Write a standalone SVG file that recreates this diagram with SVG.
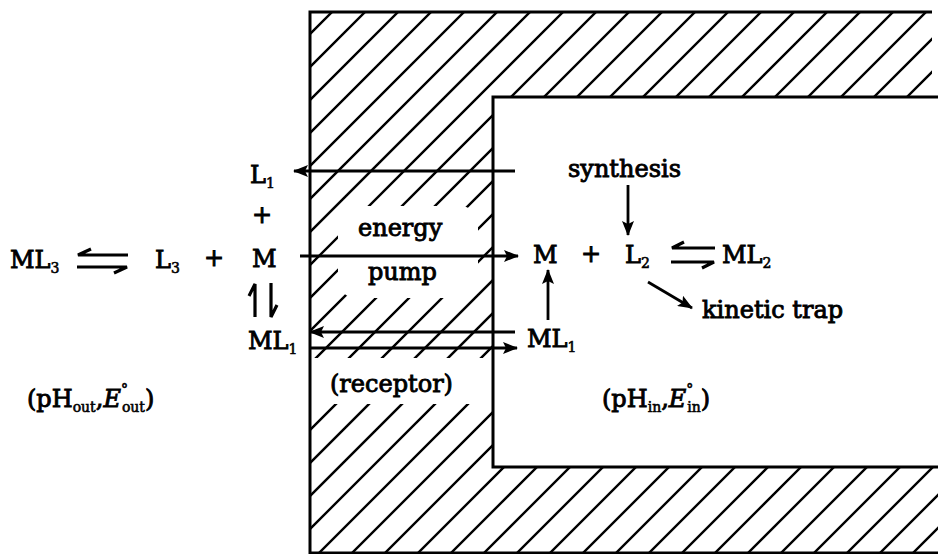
<svg xmlns="http://www.w3.org/2000/svg" width="938" height="554" viewBox="0 0 938 554">
<style>
  text { font-family: "DejaVu Serif", "Liberation Serif", serif; font-size: 24px; fill: #000; stroke: #000; stroke-width: 0.9; }
  .sub { font-size: 14px; stroke-width: 0.6; }
  .it { font-style: italic; }
  .ln { fill: none; stroke: #000; stroke-width: 2.8; }
  .hp { fill: none; stroke: #000; stroke-width: 3.2; stroke-linejoin: miter; }
  .border { fill: none; stroke: #000; stroke-width: 3; }
  .hatch { fill: none; stroke: #000; stroke-width: 2.4; }
</style>
<defs>
  <clipPath id="wall">
    <path d="M310,12 H932 V97 H493 V467 H938 V553 H310 Z"/>
  </clipPath>
  <marker id="ah" markerUnits="userSpaceOnUse" markerWidth="16" markerHeight="12" refX="14" refY="6" orient="auto">
    <path d="M0,0 L15,6 L0,12 L3,6 Z" fill="#000"/>
  </marker>
</defs>

<g id="membrane">
  <path class="hatch" clip-path="url(#wall)" d="M-249,560L311,0 M-216,560L344,0 M-183,560L377,0 M-150,560L410,0 M-117,560L443,0 M-84,560L476,0 M-51,560L509,0 M-18,560L542,0 M15,560L575,0 M48,560L608,0 M81,560L641,0 M114,560L674,0 M147,560L707,0 M180,560L740,0 M213,560L773,0 M246,560L806,0 M279,560L839,0 M312,560L872,0 M345,560L905,0 M378,560L938,0 M411,560L971,0 M444,560L1004,0 M477,560L1037,0 M510,560L1070,0 M543,560L1103,0 M576,560L1136,0 M609,560L1169,0 M642,560L1202,0 M675,560L1235,0 M708,560L1268,0 M741,560L1301,0 M774,560L1334,0 M807,560L1367,0 M840,560L1400,0 M873,560L1433,0 M906,560L1466,0 M939,560L1499,0"/>
  <rect x="338" y="206" width="140" height="92" rx="18" fill="#fff"/>
  <rect x="311" y="358" width="181" height="46" fill="#fff"/>
  <path class="border" d="M932,12 H310 V553 H938"/>
  <path class="border" d="M938,97 H493 V467 H938"/>
</g>

<g id="connectors">
  <path class="ln" d="M515,171 H294" marker-end="url(#ah)"/>
  <path class="ln" d="M300,256 H518" marker-end="url(#ah)"/>
  <path class="ln" d="M628,185 V235" marker-end="url(#ah)"/>
  <path class="ln" d="M548,320 V270" marker-end="url(#ah)"/>
  <path class="ln" d="M648,282 L692,308" marker-end="url(#ah)"/>
  <path class="ln" d="M515,332 H310" marker-end="url(#ah)"/>
  <path class="ln" d="M310,348 H517" marker-end="url(#ah)"/>
  <path class="hp" d="M128,255 H78 L91,249"/>
  <path class="hp" d="M77,267 H127 L114,273"/>
  <path class="hp" d="M715,248 H672 L684,242"/>
  <path class="hp" d="M671,262 H714 L702,268"/>
  <path class="hp" d="M255,317 V284 L249,296"/>
  <path class="hp" d="M271,283 V317 L277,305"/>
</g>

<g id="outside">
  <text x="10" y="268">ML<tspan class="sub" dy="5">3</tspan></text>
  <text x="155" y="268">L<tspan class="sub" dy="5">3</tspan></text>
  <text x="214" y="266" text-anchor="middle">+</text>
  <text x="252" y="267">M</text>
  <text x="250" y="183">L<tspan class="sub" dy="5">1</tspan></text>
  <text x="262" y="223" text-anchor="middle">+</text>
  <text x="248" y="349">ML<tspan class="sub" dy="5">1</tspan></text>
  <text x="27" y="407">(pH<tspan class="sub" dy="5">out</tspan><tspan dy="-5">,</tspan><tspan class="it">E</tspan><tspan class="sub" dy="-13">°</tspan><tspan class="sub" dx="-6" dy="18">out</tspan><tspan dy="-5">)</tspan></text>
</g>

<g id="membrane-labels">
  <text x="358" y="236">energy</text>
  <text x="368" y="280">pump</text>
  <text x="330" y="392">(receptor)</text>
</g>

<g id="inside">
  <text x="568" y="177">synthesis</text>
  <text x="533" y="263">M</text>
  <text x="591" y="262" text-anchor="middle">+</text>
  <text x="625" y="263">L<tspan class="sub" dy="5">2</tspan></text>
  <text x="722" y="263">ML<tspan class="sub" dy="5">2</tspan></text>
  <text x="702" y="318">kinetic trap</text>
  <text x="527" y="347">ML<tspan class="sub" dy="5">1</tspan></text>
  <text x="602" y="407">(pH<tspan class="sub" dy="5">in</tspan><tspan dy="-5">,</tspan><tspan class="it">E</tspan><tspan class="sub" dy="-13">°</tspan><tspan class="sub" dx="-6" dy="18">in</tspan><tspan dy="-5">)</tspan></text>
</g>
</svg>
